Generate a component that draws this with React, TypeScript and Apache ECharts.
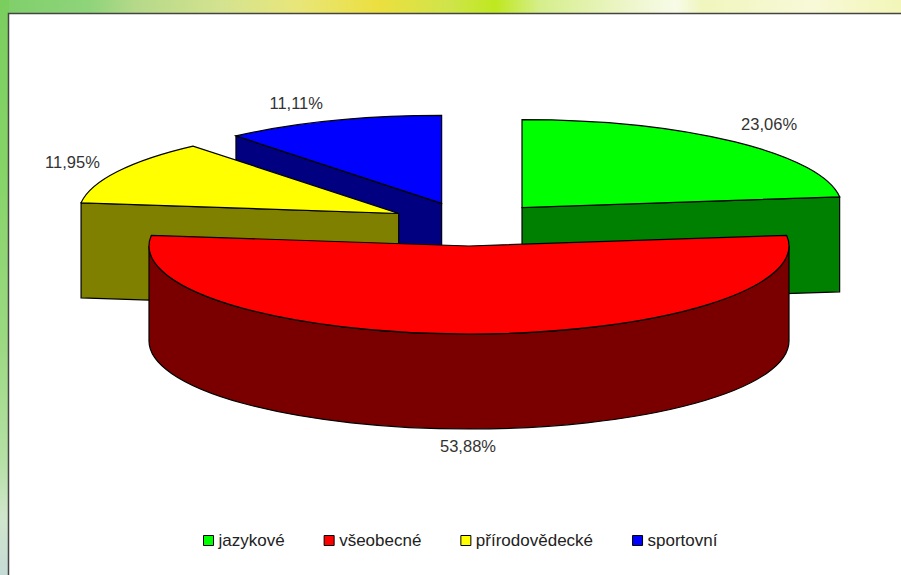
import React, { useEffect, useRef } from "react";
import * as echarts from "echarts";

const categories = ["jazykové", "všeobecné", "přírodovědecké", "sportovní"];
const shares = [23.06, 53.88, 11.95, 11.11];

const topColors = ["#00ff00", "#ff0000", "#ffff00", "#0000ff"];
const wallColors = ["#008000", "#7a0000", "#808000", "#000080"];
const drawOrder = [2, 3, 1, 0];
const labelOffsets = [
  [35, -18],
  [-1, 17],
  [-45, -10],
  [-36, -18],
];

const PIE = { cx: 469, cy: 224, rx: 320, ry: 88, depth: 95, explode: 0.25 };
const TEXT_FONT = '16.5px "Liberation Sans", Arial, sans-serif';

const total = shares.reduce((a, b) => a + b, 0);
const toAngle = (v: number) => (v / total) * Math.PI * 2;

function sliceRange(i: number) {
  const before = shares.slice(0, i).reduce((a, b) => a + b, 0);
  return [toAngle(before), toAngle(before + shares[i])];
}

function renderSlice(index: number) {
  return (_params: any, api: any) => {
    api.value(0);
    const [a0, a1] = sliceRange(index);
    const mid = (a0 + a1) / 2;
    const cx = PIE.cx + PIE.explode * PIE.rx * Math.sin(mid);
    const cy = PIE.cy - PIE.explode * PIE.ry * Math.cos(mid);
    const pt = (a: number, dy = 0): [number, number] => [
      cx + PIE.rx * Math.sin(a),
      cy - PIE.ry * Math.cos(a) + dy,
    ];
    const style = { stroke: "#000", lineWidth: 1.2 };
    const children: any[] = [];
    const wall = (a: number) => {
      const p = pt(a);
      const q = pt(a, PIE.depth);
      children.push({
        type: "polygon",
        shape: { points: [[cx, cy], p, q, [cx, cy + PIE.depth]] },
        style: { ...style, fill: wallColors[index] },
      });
    };
    if (a0 > Math.PI && a0 < Math.PI * 2) wall(a0);
    if (a1 > 0 && a1 < Math.PI) wall(a1);

    const w0 = Math.max(a0, Math.PI / 2);
    const w1 = Math.min(a1, (Math.PI * 3) / 2);
    if (w1 > w0) {
      const s = pt(w0);
      const e = pt(w1);
      const large = w1 - w0 > Math.PI ? 1 : 0;
      children.push({
        type: "path",
        shape: {
          pathData:
            `M${s[0]} ${s[1]}A${PIE.rx} ${PIE.ry} 0 ${large} 1 ${e[0]} ${e[1]}` +
            `L${e[0]} ${e[1] + PIE.depth}A${PIE.rx} ${PIE.ry} 0 ${large} 0 ${s[0]} ${s[1] + PIE.depth}Z`,
        },
        style: { ...style, fill: wallColors[index] },
      });
    }

    const s = pt(a0);
    const e = pt(a1);
    const large = a1 - a0 > Math.PI ? 1 : 0;
    children.push({
      type: "path",
      shape: {
        pathData: `M${cx} ${cy}L${s[0]} ${s[1]}A${PIE.rx} ${PIE.ry} 0 ${large} 1 ${e[0]} ${e[1]}Z`,
      },
      style: { ...style, fill: topColors[index] },
    });

    const rim = pt(mid, Math.cos(mid) < 0 ? PIE.depth : 0);
    children.push({
      type: "text",
      style: {
        text: shares[index].toFixed(2).replace(".", ",") + "%",
        x: rim[0] + labelOffsets[index][0],
        y: rim[1] + labelOffsets[index][1],
        align: "center",
        verticalAlign: "middle",
        font: TEXT_FONT,
        fill: "#333",
      },
    });
    return { type: "group", children };
  };
}

const topGradient = [
  [0, "#7fcf6a"], [0.1, "#8fd47a"], [0.15, "#b5d989"], [0.25, "#d5e38f"],
  [0.33, "#e8e67a"], [0.42, "#ecdf3f"], [0.5, "#cfe44a"], [0.55, "#bfe81f"],
  [0.6, "#d6ee8c"], [0.7, "#eef6cc"], [0.75, "#f7fbe8"], [0.78, "#f0f6bd"],
  [0.9, "#f8f9d8"], [1, "#f3f6b8"],
];
const leftGradient = [
  [0, "#7ace5e"], [0.3, "#86d468"], [0.6, "#9cd982"], [0.8, "#b5e0a5"],
  [0.9, "#d0e6cc"], [1, "#c5dbd6"],
];
const gradient = (stops: any[], x2: number, y2: number) => ({
  type: "linear", x: 0, y: 0, x2, y2,
  colorStops: stops.map(([offset, color]) => ({ offset, color })),
});

export default function App() {
  const ref = useRef<HTMLDivElement>(null);
  useEffect(() => {
    const chart = echarts.init(ref.current!, undefined, { renderer: "svg" });
    chart.setOption({
      animation: false,
      backgroundColor: "#fff",
      graphic: [
        { type: "rect", shape: { x: 0, y: 0, width: 901, height: 14 }, style: { fill: gradient(topGradient, 1, 0) } },
        { type: "rect", shape: { x: 0, y: 0, width: 9, height: 575 }, style: { fill: gradient(leftGradient, 0, 1) } },
        { type: "polyline", shape: { points: [[8.5, 575], [8.5, 13.5], [901, 13.5]] }, style: { stroke: "#444", lineWidth: 1.5, fill: "none" } },
      ],
      legend: {
        left: 203,
        top: 532,
        padding: 0,
        data: categories,
        icon: "rect",
        itemWidth: 10,
        itemHeight: 10,
        itemGap: 39,
        selectedMode: false,
        itemStyle: { borderColor: "#000", borderWidth: 1 },
        textStyle: { fontFamily: '"Liberation Sans", Arial, sans-serif', fontSize: 17, color: "#222", padding: 0 },
      },
      series: categories.map((name, i) => ({
        type: "custom",
        name,
        coordinateSystem: "none",
        z: 2 + drawOrder[i],
        silent: true,
        itemStyle: { color: topColors[i] },
        data: [[shares[i]]],
        renderItem: renderSlice(i),
      })),
    });
    return () => chart.dispose();
  }, []);
  return <div ref={ref} style={{ position: "fixed", left: 0, top: 0, width: 901, height: 575 }} />;
}
